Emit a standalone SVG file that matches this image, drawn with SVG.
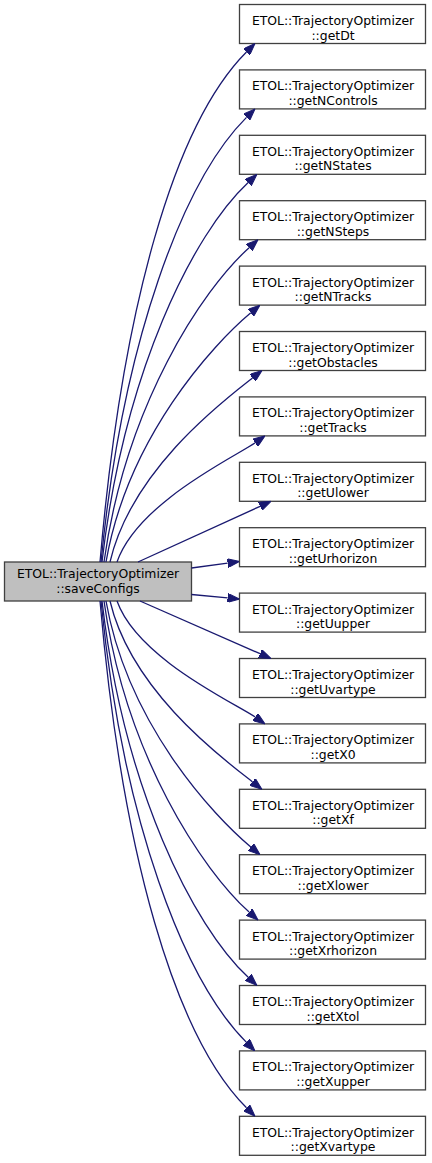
<svg xmlns="http://www.w3.org/2000/svg" width="432" height="1163" viewBox="0 0 432 1163">
<style>
.n rect{fill:#ffffff;stroke:#404040;stroke-width:1.3}
#main rect{fill:#bfbfbf}
.n text{font-family:"DejaVu Sans",sans-serif;font-size:12.4px;fill:#000;text-anchor:middle}
.e path{fill:none;stroke:#191970;stroke-width:1.3;marker-end:url(#ah)}
</style>
<defs>
<marker id="ah" markerUnits="userSpaceOnUse" viewBox="0 0 12 9" refX="0" refY="4.5" markerWidth="12" markerHeight="9" orient="auto">
<path d="M0,0 L12,4.5 L0,9 z" fill="#191970" stroke="#191970" stroke-width="1"/>
</marker>
</defs>
<g id="main" class="n"><rect x="4.5" y="562" width="187" height="39"/><text x="98" y="578">ETOL::TrajectoryOptimizer</text><text x="98" y="593">::saveConfigs</text></g>
<g id="n0" class="n"><rect x="239.5" y="4.5" width="186" height="39"/><text x="333" y="25">ETOL::TrajectoryOptimizer</text><text x="333" y="39.5">::getDt</text></g>
<g id="n1" class="n"><rect x="239.5" y="69.9" width="186" height="39"/><text x="333" y="90.4">ETOL::TrajectoryOptimizer</text><text x="333" y="104.9">::getNControls</text></g>
<g id="n2" class="n"><rect x="239.5" y="135.3" width="186" height="39"/><text x="333" y="155.8">ETOL::TrajectoryOptimizer</text><text x="333" y="170.3">::getNStates</text></g>
<g id="n3" class="n"><rect x="239.5" y="200.7" width="186" height="39"/><text x="333" y="221.2">ETOL::TrajectoryOptimizer</text><text x="333" y="235.7">::getNSteps</text></g>
<g id="n4" class="n"><rect x="239.5" y="266.1" width="186" height="39"/><text x="333" y="286.6">ETOL::TrajectoryOptimizer</text><text x="333" y="301.1">::getNTracks</text></g>
<g id="n5" class="n"><rect x="239.5" y="331.5" width="186" height="39"/><text x="333" y="352">ETOL::TrajectoryOptimizer</text><text x="333" y="366.5">::getObstacles</text></g>
<g id="n6" class="n"><rect x="239.5" y="396.9" width="186" height="39"/><text x="333" y="417.4">ETOL::TrajectoryOptimizer</text><text x="333" y="431.9">::getTracks</text></g>
<g id="n7" class="n"><rect x="239.5" y="462.3" width="186" height="39"/><text x="333" y="482.8">ETOL::TrajectoryOptimizer</text><text x="333" y="497.3">::getUlower</text></g>
<g id="n8" class="n"><rect x="239.5" y="527.7" width="186" height="39"/><text x="333" y="548.2">ETOL::TrajectoryOptimizer</text><text x="333" y="562.7">::getUrhorizon</text></g>
<g id="n9" class="n"><rect x="239.5" y="593.1" width="186" height="39"/><text x="333" y="613.6">ETOL::TrajectoryOptimizer</text><text x="333" y="628.1">::getUupper</text></g>
<g id="n10" class="n"><rect x="239.5" y="658.5" width="186" height="39"/><text x="333" y="679">ETOL::TrajectoryOptimizer</text><text x="333" y="693.5">::getUvartype</text></g>
<g id="n11" class="n"><rect x="239.5" y="723.9" width="186" height="39"/><text x="333" y="744.4">ETOL::TrajectoryOptimizer</text><text x="333" y="758.9">::getX0</text></g>
<g id="n12" class="n"><rect x="239.5" y="789.3" width="186" height="39"/><text x="333" y="809.8">ETOL::TrajectoryOptimizer</text><text x="333" y="824.3">::getXf</text></g>
<g id="n13" class="n"><rect x="239.5" y="854.7" width="186" height="39"/><text x="333" y="875.2">ETOL::TrajectoryOptimizer</text><text x="333" y="889.7">::getXlower</text></g>
<g id="n14" class="n"><rect x="239.5" y="920.1" width="186" height="39"/><text x="333" y="940.6">ETOL::TrajectoryOptimizer</text><text x="333" y="955.1">::getXrhorizon</text></g>
<g id="n15" class="n"><rect x="239.5" y="985.5" width="186" height="39"/><text x="333" y="1006">ETOL::TrajectoryOptimizer</text><text x="333" y="1020.5">::getXtol</text></g>
<g id="n16" class="n"><rect x="239.5" y="1050.9" width="186" height="39"/><text x="333" y="1071.4">ETOL::TrajectoryOptimizer</text><text x="333" y="1085.9">::getXupper</text></g>
<g id="n17" class="n"><rect x="239.5" y="1116.3" width="186" height="39"/><text x="333" y="1136.8">ETOL::TrajectoryOptimizer</text><text x="333" y="1151.3">::getXvartype</text></g>
<g id="edges" class="e">
<path d="M100,562 C122,307 174.4,124.1 246.5,52"/>
<path d="M101,562 C122.8,339.7 183.6,180.3 246.5,117.4"/>
<path d="M102,562 C123.9,372.3 192.7,234.3 248.2,182.5"/>
<path d="M104,562 C125.8,404.8 202.4,289.8 249.1,247.7"/>
<path d="M106,562 C127.7,437.4 212.6,344.8 250.8,312.8"/>
<path d="M110,562 C131.4,470 223.5,400.6 252.5,377.9"/>
<path d="M117,562 C137.7,502.4 235.7,456.5 255.2,442.8"/>
<path d="M138,562 L260.1,506.3"/>
<path d="M191.5,568 L227.6,563.1"/>
<path d="M191.5,594.5 L227.6,597.9"/>
<path d="M140,601 L260,653.7"/>
<path d="M117,601 C137.7,659 236.2,703.7 255.2,717"/>
<path d="M110,601 C131.4,691.5 224,759.6 252.5,781.9"/>
<path d="M106,601 C127.7,724 213.1,815.4 250.8,847"/>
<path d="M104,601 C125.8,756.5 202.9,870.5 249.1,912.1"/>
<path d="M102,601 C123.9,789.2 193.1,925.9 248.2,977.3"/>
<path d="M101,601 C122.8,821.7 184.1,980 246.5,1042.4"/>
<path d="M100,601 C122,854.4 174.8,1036.1 246.5,1107.8"/>
</g>
</svg>
